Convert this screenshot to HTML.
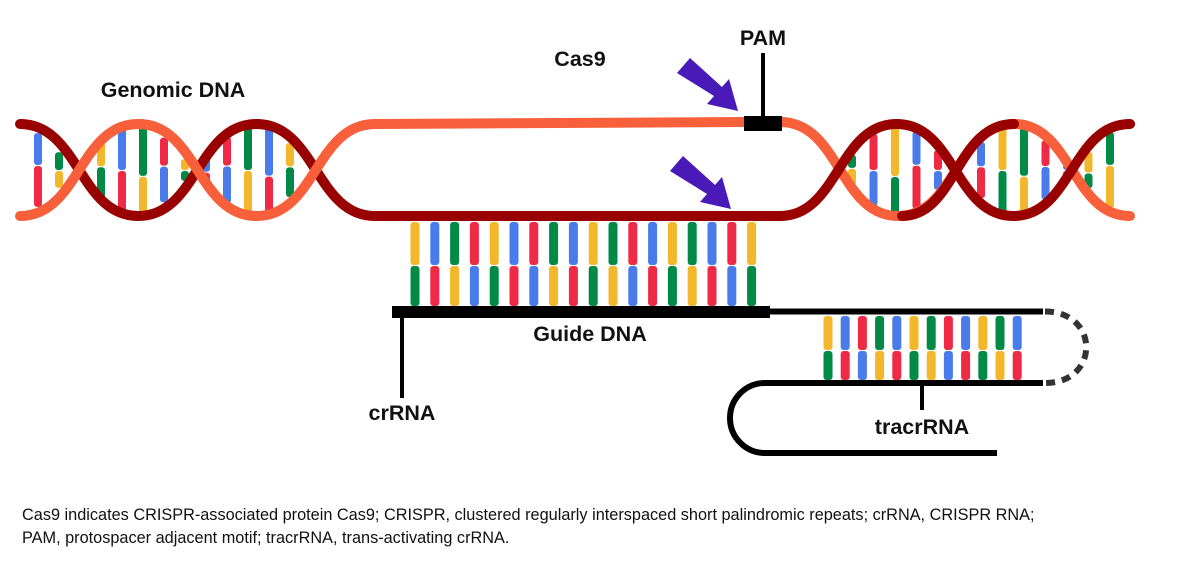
<!DOCTYPE html>
<html><head><meta charset="utf-8"><style>
body{margin:0;background:#fff;width:1186px;height:574px;overflow:hidden}
svg{display:block}
text{font-family:"Liberation Sans",Arial,sans-serif}
</style></head><body>
<svg id="s" width="1186" height="574" viewBox="0 0 1186 574" xmlns="http://www.w3.org/2000/svg">
<g id="bars"></g>
<g id="strands" fill="none" stroke-linecap="round"></g>
<line x1="392" y1="312" x2="770" y2="312" stroke="#000" stroke-width="12"/>
<line x1="770" y1="311.5" x2="1043" y2="311.5" stroke="#000" stroke-width="6"/>
<line x1="402" y1="318" x2="402" y2="398" stroke="#000" stroke-width="4"/>
<path d="M1043 383 L765 383 A35 35 0 0 0 765 453 L997 453" fill="none" stroke="#000" stroke-width="6"/>
<path d="M1045 311.5 C1100 311.5 1100 383 1045 383" fill="none" stroke="#333" stroke-width="6" stroke-dasharray="9 7"/>
<line x1="922" y1="383" x2="922" y2="410" stroke="#000" stroke-width="4"/>
<line x1="763" y1="53" x2="763" y2="118" stroke="#000" stroke-width="4"/>
<rect x="744" y="116" width="38" height="15" fill="#000"/>
<g fill="#4a1ab8">
<polygon points="677,73 690,58 722,87 729,79 738,111 707,104 714,96"/>
<polygon points="670,171 683,156 715,185 722,177 731,209 700,202 707,194"/>
</g>
<g font-weight="bold" font-size="21.5" fill="#111">
<text x="173" y="97" text-anchor="middle">Genomic DNA</text>
<text x="580" y="66" text-anchor="middle">Cas9</text>
<text x="763" y="45" text-anchor="middle">PAM</text>
<text x="590" y="341" text-anchor="middle">Guide DNA</text>
<text x="402" y="420" text-anchor="middle">crRNA</text>
<text x="922" y="434" text-anchor="middle">tracrRNA</text>
</g>
<g font-size="16.3" fill="#111">
<text x="22" y="520">Cas9 indicates CRISPR-associated protein Cas9; CRISPR, clustered regularly interspaced short palindromic repeats; crRNA, CRISPR RNA;</text>
<text x="22" y="543">PAM, protospacer adjacent motif; tracrRNA, trans-activating crRNA.</text>
</g>
</svg>
<script>
var NS="http://www.w3.org/2000/svg";
var C={b:"#4a7bea",r:"#ee2a45",g:"#008a45",y:"#f2b72a"};
var comp={b:"r",r:"b",g:"y",y:"g"};
var seq="bgrybgrybrgbygrbygbrygbrg".split("");
var bars=document.getElementById("bars"),st=document.getElementById("strands");
function rect(x,y,w,h,c){var e=document.createElementNS(NS,"rect");e.setAttribute("x",x);e.setAttribute("y",y);e.setAttribute("width",w);e.setAttribute("height",h);e.setAttribute("rx",3);e.setAttribute("fill",c);bars.appendChild(e);}
function bar(x,y1,ym,y2,i,w){var a=seq[i%seq.length];rect(x-w/2,y1,w,ym-y1,C[a]);rect(x-w/2,ym+1,w,y2-ym-1,C[comp[a]]);}
function helixBars(x0,x1,step,start,period,off){var k=0;for(var x=x0;x<=x1+0.1;x+=step){var a=Math.abs(Math.cos(Math.PI*(x-start)/period));var h=46*a;if(h>6)bar(x,170-h+1,170+((k%3)-1)*6*a,170+h-1,k+off,8);k++;}}
helixBars(38,302,21,15,120,0);
helixBars(852,1116,21.5,780,117,5);
for(var i=0;i<18;i++)bar(415+i*19.8,222,265,306,i+3,9);
for(var i=0;i<12;i++)bar(828+i*17.2,316,350,380,i+7,9);
function path(d,c){var e=document.createElementNS(NS,"path");e.setAttribute("d",d);e.setAttribute("stroke",c);e.setAttribute("stroke-width",10);st.appendChild(e);}
function wave(x0,h,n,topFirst){var T=124,B=216,y=topFirst?T:B,d="M"+x0+" "+y;for(var i=0;i<n;i++){var y2=(y==T)?B:T;var xs=x0+i*h;d+=" C"+(xs+h*0.5)+" "+y+" "+(xs+h*0.5)+" "+y2+" "+(xs+h)+" "+y2;y=y2;}return d;}
var dk="#990000",or="#f7603a";
path(wave(20,118.3,3,true)+" L780 216",dk);
path(wave(20,118.3,3,false)+" L745 122",or);
path("M782 122 "+wave(782,116,3,true).replace(/^M[^C]*/,""),or);
path("M780 216 "+wave(780,116.7,3,false).replace(/^M[^C]*/,""),dk);
path("M"+(20+118.3)+" 124 C"+(20+118.3*1.5)+" 124 "+(20+118.3*1.5)+" 216 "+(20+118.3*2)+" 216",or);
path("M902 216 C"+(898+58)+" 216 "+(898+58)+" 124 1014 124",dk);
</script>
</body></html>
